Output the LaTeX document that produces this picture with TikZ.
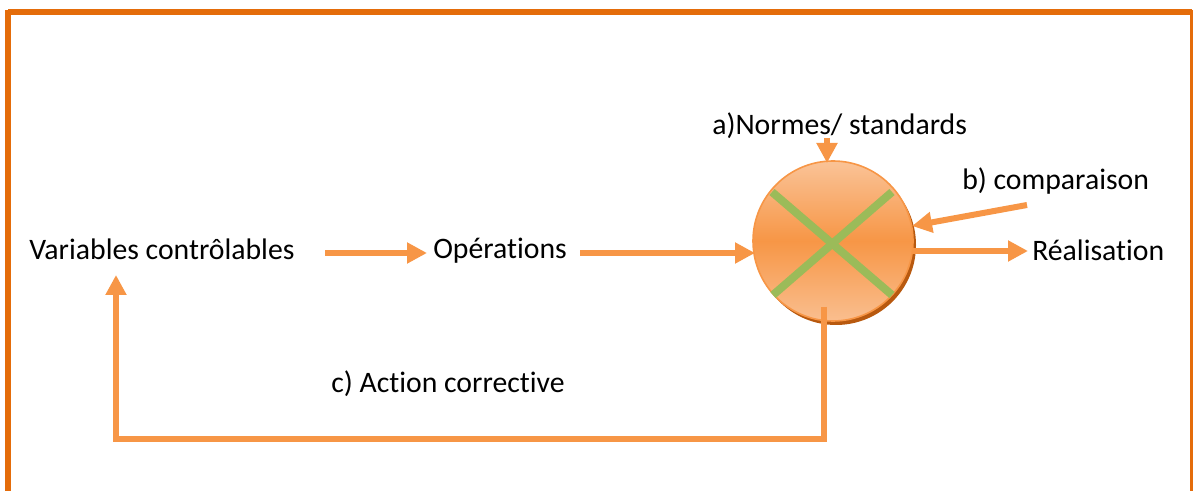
\documentclass[tikz,border=0pt]{standalone}
\usepackage{fontspec}
\setmainfont{Carlito}[Ligatures=NoCommon]
\usetikzlibrary{arrows.meta,calc}
\definecolor{frameorange}{HTML}{E46C0A}
\definecolor{flow}{HTML}{F79646}
\definecolor{flowlight}{HTML}{FAC397}
\definecolor{shadowbrown}{HTML}{B8590F}
\definecolor{crossgreen}{HTML}{9BBB59}
\tikzset{
  lbl/.style={inner sep=0pt, font=\fontsize{22.3}{27}\selectfont, text=black},
  flowline/.style={draw=flow, line width=4.5pt,
    -{Triangle[length=15pt,width=15pt]}},
}
\begin{document}
\begin{tikzpicture}[x=0.75pt,y=-0.75pt]
  \useasboundingbox (0,0) rectangle (1193,491);
  % outer frame
  \draw[frameorange, line width=4.5pt] (8,12) -- (1191.5,12);
  \draw[frameorange, line width=4.5pt] (8,10) -- (8,491);
  \draw[frameorange, line width=2.5pt] (1191.5,10) -- (1191.5,491);

  % labels
  \node[lbl, anchor=base west] (var) at (29,260) {Variables contrôlables};
  \node[lbl, anchor=base west] (ops) at (433,259) {Opérations};
  \node[lbl, anchor=base west] (real) at (1032,261) {Réalisation};
  \node[lbl, anchor=base west] (norm) at (712,135) {a)Normes/ standards};
  \node[lbl, anchor=base west] (comp) at (962,190) {b) comparaison};
  \node[lbl, anchor=base west] (act) at (331,393) {c) Action corrective};

  % comparator
  \fill[shadowbrown] (836,245) circle (80);
  \shade[top color=flowlight, bottom color=flowlight!90!flow, middle color=flow]
    (833,241) circle (80);
  \node[circle, draw=flow, line width=1.2pt, minimum size=120pt, inner sep=0pt]
    (cmp) at (833,241) {};
  \draw[crossgreen, line width=6pt] (772,192) -- (892,295);
  \draw[crossgreen, line width=6pt] (892,192) -- (773,295);

  % connector end points
  \coordinate (a1s) at (325,253);
  \coordinate (a1e) at (427,253);
  \coordinate (a2s) at (580,253);
  \coordinate (a2e) at (755,253);
  \coordinate (a3s) at (912,251);
  \coordinate (a3e) at (1028,251);
  \coordinate (cs) at (1027,205);
  \coordinate (ce) at (912,226);
  \coordinate (ns) at (827,138);
  \coordinate (ne) at (827,163);
  \coordinate (fbtop) at (823.5,307);
  \coordinate (fbcorner) at (823.5,439);
  \coordinate (fbleft) at (116,439);
  \coordinate (fbtip) at (116,275);

  % flows
  \draw[flowline] (a1s) -- (a1e);
  \draw[flowline] (a2s) -- (a2e);
  \draw[flowline] (a3s) -- (a3e);
  \draw[flowline] (cs) -- (ce);
  \draw[flowline] (ns) -- (ne);
  \draw[flowline] (fbtop) -- (fbcorner) -- (fbleft) -- (fbtip);
\end{tikzpicture}
\end{document}
